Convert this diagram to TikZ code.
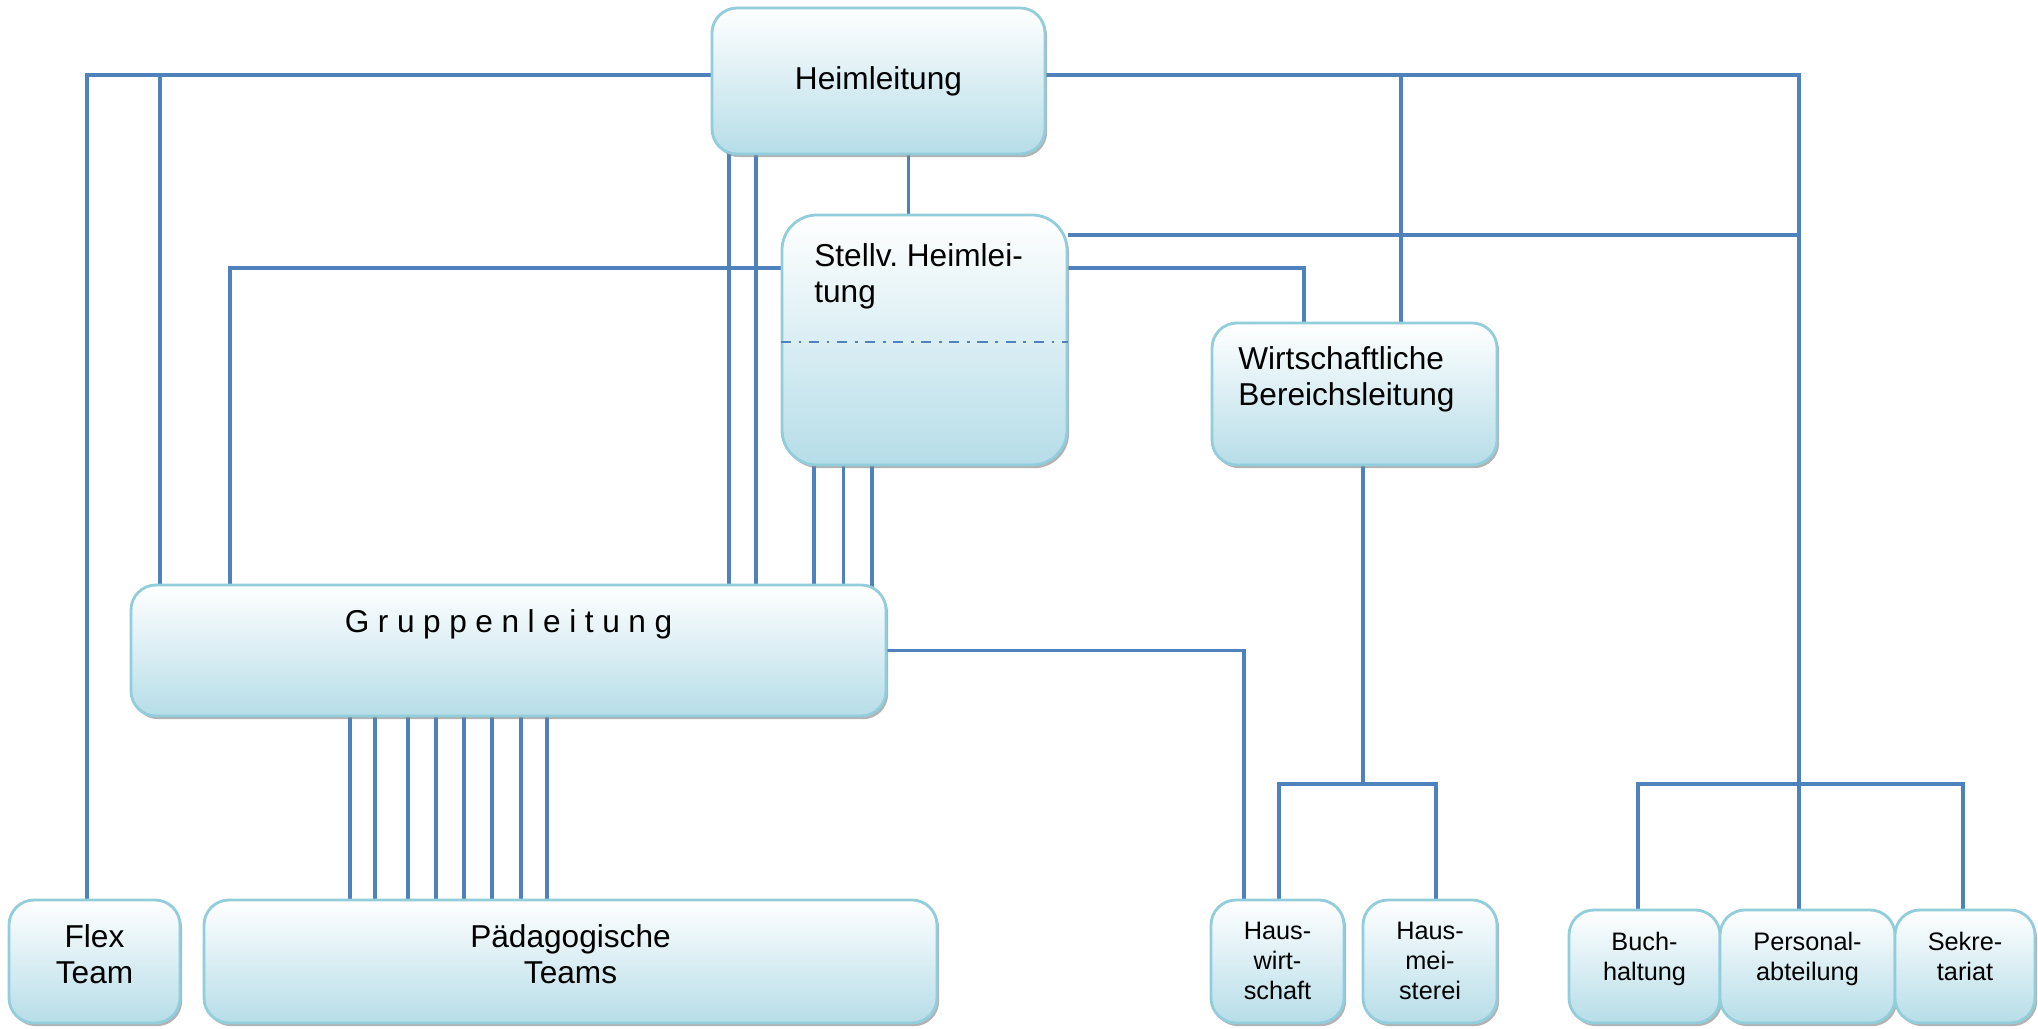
\documentclass[tikz,border=0pt]{standalone}
\usepackage{fontspec}
\setmainfont{Liberation Sans}
\newfontfamily\gesperrt[LetterSpace=27]{Liberation Sans}
\usetikzlibrary{shadows, backgrounds, positioning}
\definecolor{rand}{RGB}{146,205,220}
\definecolor{unten}{RGB}{182,221,232}
\definecolor{linie}{RGB}{79,129,189}
\tikzset{
  kst/.style = {rounded corners=0.25cm, draw=rand, line width=0.8pt,
    top color=white, bottom color=unten, inner sep=0pt,
    drop shadow={shadow xshift=0.6pt, shadow yshift=-0.9pt,
      fill=black!50, opacity=0.6}},
  tx/.style = {inner sep=0pt, align=center,
    font=\fontsize{9}{10.4}\selectfont},
  txk/.style = {inner sep=0pt, align=center,
    font=\fontsize{7.2}{8.5}\selectfont},
  lin/.style = {draw=linie, line width=0.95pt},
  strich/.style = {draw=linie, line width=0.75pt,
    dash pattern=on 2.9pt off 2.2pt on 0.8pt off 2.1pt}
}

\begin{document}
\begin{tikzpicture}
  \useasboundingbox (0,0) rectangle (20.38,-10.29);
  % Leitung
  \node [kst, tx, minimum width=3.33cm, minimum height=1.46cm] (hl) at (8.785,-0.81) {Heimleitung};
  \node [kst, minimum width=2.85cm, minimum height=2.50cm, rounded corners=0.35cm] (st) at (9.245,-3.40) {};
  \node [tx, align=left, anchor=north west] (st-t) at ([xshift=0.33cm, yshift=-0.29cm]st.north west) {Stellv.\ Heimlei-\\tung};
  \draw [strich] (st.west |- 0,-3.42) -- (st.east |- 0,-3.42);
  \node [kst, minimum width=2.85cm, minimum height=1.42cm] (wb) at (13.545,-3.94) {};
  \node [tx, align=left, anchor=north west] (wb-t) at ([xshift=0.27cm, yshift=-0.24cm]wb.north west) {Wirtschaftliche\\Bereichsleitung};
  \node [kst, minimum width=7.55cm, minimum height=1.31cm] (gl) at (5.085,-6.505) {};
  \node [tx, anchor=north] (gl-t) at ([yshift=-0.25cm]gl.north) {\gesperrt Gruppenleitung};
  % Teams und Bereiche
  \node [kst, minimum width=1.71cm, minimum height=1.23cm] (flex) at (0.945,-9.615) {};
  \node [tx, anchor=north] (flex-t) at ([yshift=-0.25cm]flex.north) {Flex\\Team};
  \node [kst, minimum width=7.33cm, minimum height=1.23cm] (pt) at (5.705,-9.615) {};
  \node [tx, anchor=north] (pt-t) at ([yshift=-0.25cm]pt.north) {Pädagogische\\Teams};
  \node [kst, minimum width=1.33cm, minimum height=1.23cm] (hw) at (12.775,-9.615) {};
  \node [txk, anchor=north] (hw-t) at ([yshift=-0.23cm]hw.north) {Haus-\\wirt-\\schaft};
  \node [kst, minimum width=1.34cm, minimum height=1.23cm] (hm) at (14.30,-9.615) {};
  \node [txk, anchor=north] (hm-t) at ([yshift=-0.23cm]hm.north) {Haus-\\mei-\\sterei};
  \node [kst, minimum width=1.51cm, minimum height=1.13cm] (bh) at (16.445,-9.665) {};
  \node [txk, anchor=north] (bh-t) at ([yshift=-0.23cm]bh.north) {Buch-\\haltung};
  \node [kst, minimum width=1.75cm, minimum height=1.13cm] (pa) at (18.075,-9.665) {};
  \node [txk, anchor=north] (pa-t) at ([yshift=-0.23cm]pa.north) {Personal-\\abteilung};
  \node [kst, minimum width=1.40cm, minimum height=1.13cm] (sk) at (19.65,-9.665) {};
  \node [txk, anchor=north] (sk-t) at ([yshift=-0.23cm]sk.north) {Sekre-\\tariat};
  % Verbindungen
  \coordinate (hy) at ([yshift=0.06cm]hl.west);
  \coordinate (hye) at ([yshift=0.06cm]hl.east);
  \coordinate (pv) at ([xshift=-0.085cm]pa.north);
  \coordinate (hj) at (13.63,-7.84);
  \begin{scope}[on background layer]
    \fill [white] (0,0) rectangle (20.38,-10.29);
    \draw [lin] ([xshift=-0.075cm]flex.north) |- (hy);
    \draw [lin] (gl -| 1.60,0) -- (1.60,0 |- hy);
    \draw [lin] (hye) -| (pv);
    \draw [lin] (wb -| 14.01,0) -- (14.01,0 |- hye);
    \draw [lin] (st.east |- 0,-2.35) -- (pv |- 0,-2.35);
    \draw [lin] (st.east |- 0,-2.68) -| (wb -| 13.04,0);
    \draw [lin] (st.west |- 0,-2.68) -| (gl -| 2.30,0);
    \foreach \x in {7.29,7.56} \draw [lin] (hl -| \x,0) -- (gl -| \x,0);
    \draw [lin] (hl -| 9.085,0) -- (st -| 9.085,0);
    \foreach \x in {8.14,8.435,8.72} \draw [lin] (st -| \x,0) -- (gl -| \x,0);
    \foreach \x in {3.50,3.75,4.08,4.36,4.64,4.92,5.21,5.47} \draw [lin] (gl -| \x,0) -- (pt -| \x,0);
    \draw [lin] (gl.east) -| ([xshift=-0.335cm]hw.north);
    \draw [lin] (wb -| hj) -- (hj);
    \draw [lin] (hw.north -| 12.79,0) |- (hj) -| (hm.north -| 14.36,0);
    \draw [lin] (bh.north -| 16.38,0) |- (pv |- hj) -| (sk.north -| 19.63,0);
  \end{scope}
\end{tikzpicture}
\end{document}
